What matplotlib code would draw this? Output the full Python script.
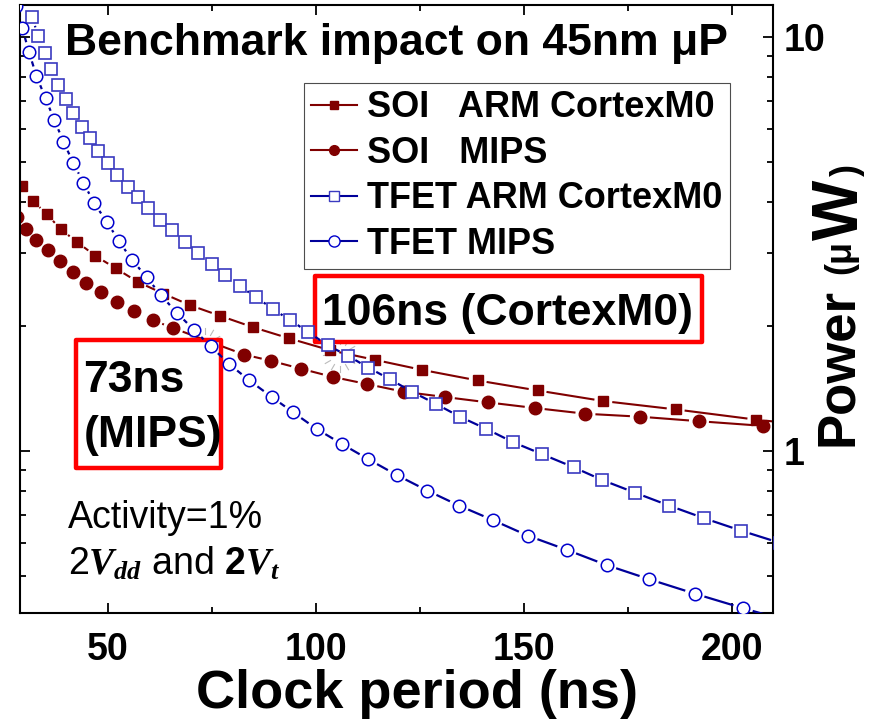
import matplotlib
matplotlib.use('Agg')
import matplotlib.pyplot as plt
import numpy as np
from matplotlib.collections import LineCollection
from matplotlib.lines import Line2D
from matplotlib.patches import Rectangle
from matplotlib.ticker import MultipleLocator, FixedLocator, NullFormatter

plt.rcParams['font.family'] = ['Liberation Sans', 'DejaVu Sans']
plt.rcParams['font.weight'] = 'bold'
plt.rcParams['mathtext.fontset'] = 'custom'
plt.rcParams['mathtext.it'] = 'Liberation Serif:bold:italic'
plt.rcParams['mathtext.rm'] = 'Liberation Sans'

# clock period (ns) and power (uW)
soi_arm_t = [29.3, 32.0, 35.3, 38.7, 42.5, 47.0, 51.9, 57.2, 63.3, 69.7, 77.0,
             84.9, 93.6, 103.5, 114.2, 125.5, 138.9, 153.3, 169.1, 186.5, 205.9, 227.1]
soi_arm_p = [4.36, 4.02, 3.73, 3.43, 3.20, 2.96, 2.76, 2.56, 2.40, 2.25, 2.12,
             1.99, 1.87, 1.75, 1.66, 1.57, 1.48, 1.40, 1.32, 1.26, 1.19, 1.13]

soi_mips_t = [28.1, 30.4, 32.8, 35.6, 38.5, 41.5, 44.8, 48.4, 52.2, 56.3, 60.8, 65.7,
              82.7, 89.3, 96.4, 104.0, 112.4, 121.1, 131.0, 141.4, 152.6, 164.8,
              177.9, 192.1, 207.4]
soi_mips_p = [3.67, 3.43, 3.23, 3.06, 2.88, 2.71, 2.55, 2.42, 2.29, 2.18, 2.07, 1.98,
              1.71, 1.65, 1.58, 1.51, 1.45, 1.39, 1.35, 1.31, 1.27, 1.23,
              1.21, 1.18, 1.15]

tfet_arm_t = [31.8, 33.2, 34.9, 36.3, 38.1, 39.8, 41.7, 43.7, 45.7, 47.7,
              49.9, 52.1, 54.8, 57.2, 59.7, 62.5, 65.3, 68.5, 71.6, 75.0,
              78.1, 81.7, 85.7, 89.7, 93.8, 98.1, 102.8, 107.6, 112.6, 117.8,
              123.1, 128.8, 134.6, 141.0, 147.4, 154.4, 162.0, 168.8, 176.7, 184.9,
              193.3, 202.2, 211.5]
tfet_arm_p = [11.16, 10.06, 9.17, 8.36, 7.66, 7.07, 6.54, 6.07, 5.69, 5.31,
              4.95, 4.64, 4.35, 4.11, 3.86, 3.61, 3.41, 3.20, 3.00, 2.83,
              2.66, 2.50, 2.35, 2.20, 2.07, 1.94, 1.80, 1.70, 1.59, 1.49,
              1.39, 1.30, 1.21, 1.13, 1.05, 0.982, 0.913, 0.851, 0.793, 0.738,
              0.688, 0.642, 0.60]

tfet_mips_t = [27.8, 29.4, 31.0, 32.8, 35.0, 37.1, 39.3, 41.7, 44.1, 46.6,
               49.7, 52.6, 55.7, 59.3, 62.7, 66.5, 70.7, 74.7, 79.2, 84.0,
               89.4, 94.5, 100.2, 106.2, 112.6, 119.4, 126.8, 134.4, 142.5, 151.0,
               160.3, 169.9, 180.1, 191.1, 202.7, 214.8]
tfet_mips_p = [11.9, 10.5, 9.21, 8.05, 7.11, 6.30, 5.59, 4.95, 4.45, 3.98,
               3.58, 3.22, 2.90, 2.63, 2.38, 2.16, 1.96, 1.79, 1.62, 1.48,
               1.35, 1.24, 1.13, 1.04, 0.955, 0.875, 0.802, 0.738, 0.681, 0.624,
               0.577, 0.530, 0.490, 0.452, 0.417, 0.385]

labels = ['SOI   ARM CortexM0', 'SOI   MIPS', 'TFET ARM CortexM0', 'TFET MIPS']
x_ticks = [50, 100, 150, 200]
y_ticks = [1, 10]
y_ticklabels = ['1', '10']

W, H = 877, 721
red_dark = '#800000'
blue_dark = '#00009a'


def fx(px):
    return px / W


def fy(py):
    return 1 - py / H


def gapped_line(ax, x, y, gap, **kwargs):
    # origin style line: stops a few pixels before each symbol
    pts = ax.transData.transform(np.column_stack([x, y]))
    inv = ax.transData.inverted()
    segs = []
    for p0, p1 in zip(pts[:-1], pts[1:]):
        d = np.hypot(*(p1 - p0))
        if d <= 2 * gap + 1:
            continue
        u = (p1 - p0) / d
        segs.append(inv.transform([p0 + u * gap, p1 - u * gap]))
    ax.add_collection(LineCollection(segs, **kwargs))


fig = plt.figure(figsize=(W / 100, H / 100), dpi=100)
ax = fig.add_axes([fx(20), fy(613), (773 - 20) / W, (613 - 5) / H])
ax.set_yscale('log')
ax.set_xlim(28.85, 209.9)
ax.set_ylim(0.406, 11.95)

gapped_line(ax, soi_arm_t, soi_arm_p, 9, colors=red_dark, linewidths=1.5, zorder=2)
ax.plot(soi_arm_t, soi_arm_p, ls='none', marker='s', ms=7.5, mfc=red_dark,
        mec=red_dark, zorder=2.2)
gapped_line(ax, soi_mips_t, soi_mips_p, 10, colors=red_dark, linewidths=1.5, zorder=2)
ax.plot(soi_mips_t, soi_mips_p, ls='none', marker='o', ms=9, mfc=red_dark,
        mec=red_dark, zorder=2.2)
gapped_line(ax, tfet_arm_t, tfet_arm_p, 9, colors=blue_dark, linewidths=1.6, zorder=4)
ax.plot(tfet_arm_t, tfet_arm_p, ls='none', marker='s', ms=8, mfc='white',
        mec='#3a3ac0', mew=1.2, zorder=4.2)
gapped_line(ax, tfet_mips_t, tfet_mips_p, 10, colors=blue_dark, linewidths=1.6, zorder=4)
ax.plot(tfet_mips_t, tfet_mips_p, ls='none', marker='o', ms=9, mfc='white',
        mec='#0000cc', mew=1.1, zorder=4.2)

# crossover highlights
for cx, cy in [(205, 345), (340, 355)]:
    for a in np.deg2rad(np.arange(0, 360, 30)):
        ax.add_line(Line2D([cx + 11 * np.cos(a), cx + 17 * np.cos(a)],
                           [H - cy + 11 * np.sin(a), H - cy + 17 * np.sin(a)],
                           transform=None, color='#bbbbbb', lw=0.8, zorder=1.5))

# red boxes
for x0, y0, x1, y1 in [(76, 340, 221, 468), (315, 276, 702, 342)]:
    ax.add_patch(Rectangle((fx(x0), fy(y1)), (x1 - x0) / W, (y1 - y0) / H,
                           transform=fig.transFigure, facecolor='white',
                           edgecolor='#ff0000', lw=3.2, joinstyle='round',
                           clip_on=False, zorder=3))
ax.set_xlim(28.85, 209.9)
ax.set_ylim(0.406, 11.95)

handles = [
    Line2D([], [], color=red_dark, lw=1.5, marker='s', ms=6, mfc=red_dark, mec=red_dark),
    Line2D([], [], color=red_dark, lw=1.5, marker='o', ms=7, mfc=red_dark, mec=red_dark),
    Line2D([], [], color=blue_dark, lw=1.5, marker='s', ms=7, mfc='white', mec='#3a3ac0'),
    Line2D([], [], color=blue_dark, lw=1.5, marker='o', ms=8, mfc='white', mec='#0000cc'),
]
leg = ax.legend(handles, labels, loc='upper right', bbox_to_anchor=(fx(730), fy(83)),
                bbox_transform=fig.transFigure, prop=dict(size=26, weight='bold'),
                fancybox=False, framealpha=1, edgecolor='0.3', handlelength=1.25,
                handletextpad=0.3, labelspacing=0.29, borderpad=0.2, borderaxespad=0)
leg.get_frame().set_linewidth(0.8)
leg.set_zorder(6)

ax.xaxis.set_major_locator(FixedLocator(x_ticks))
ax.xaxis.set_minor_locator(MultipleLocator(25))
ax.yaxis.set_major_locator(FixedLocator(y_ticks))
ax.yaxis.set_minor_formatter(NullFormatter())
ax.set_yticklabels(y_ticklabels)
ax.tick_params(which='both', direction='in', top=True, right=True, left=True,
               labelleft=False, labelright=True, width=1.3, labelsize=27)
ax.tick_params(which='major', length=7)
ax.tick_params(which='minor', length=4)
ax.tick_params(axis='x', pad=14)
ax.tick_params(axis='y', pad=8)
for s in ax.spines.values():
    s.set_linewidth(1.5)

fig.text(fx(65), fy(55), 'Benchmark impact on 45nm \u03bcP', fontsize=32, va='baseline')
fig.text(fx(322), fy(325), '106ns (CortexM0)', fontsize=32, va='baseline')
fig.text(fx(83), fy(392), '73ns', fontsize=32, va='baseline')
fig.text(fx(84), fy(447), '(MIPS)', fontsize=32, va='baseline')
fig.text(fx(68), fy(528), 'Activity=1%', fontsize=27, weight='normal', va='baseline')
fig.text(fx(68), fy(575), r'2$\mathit{V_{dd}}$ and $\mathit{2V_t}$', fontsize=27,
         weight='normal', va='baseline')
fig.text(fx(417), fy(708), 'Clock period (ns)', fontsize=39, ha='center', va='baseline')

# y label built from pieces of different size
t1 = ax.annotate('Power', xy=(838, H - 446), xycoords='figure pixels', fontsize=38,
                 rotation=90, ha='center', va='bottom', annotation_clip=False)
t2 = ax.annotate('(\u03bc', xy=(0.9, 1), xycoords=t1, xytext=(0, 10),
                 textcoords='offset points', fontsize=26,
                 rotation=90, ha='right', va='bottom', annotation_clip=False)
t3 = ax.annotate('W', xy=(0.5, 1), xycoords=t2, fontsize=46, rotation=90,
                 ha='center', va='bottom', annotation_clip=False)
t4 = ax.annotate(')', xy=(0.9, 1), xycoords=t3, xytext=(0, 3),
                 textcoords='offset points', fontsize=26, rotation=90,
                 ha='right', va='bottom', annotation_clip=False)

fig.savefig('out.png', dpi=100)
